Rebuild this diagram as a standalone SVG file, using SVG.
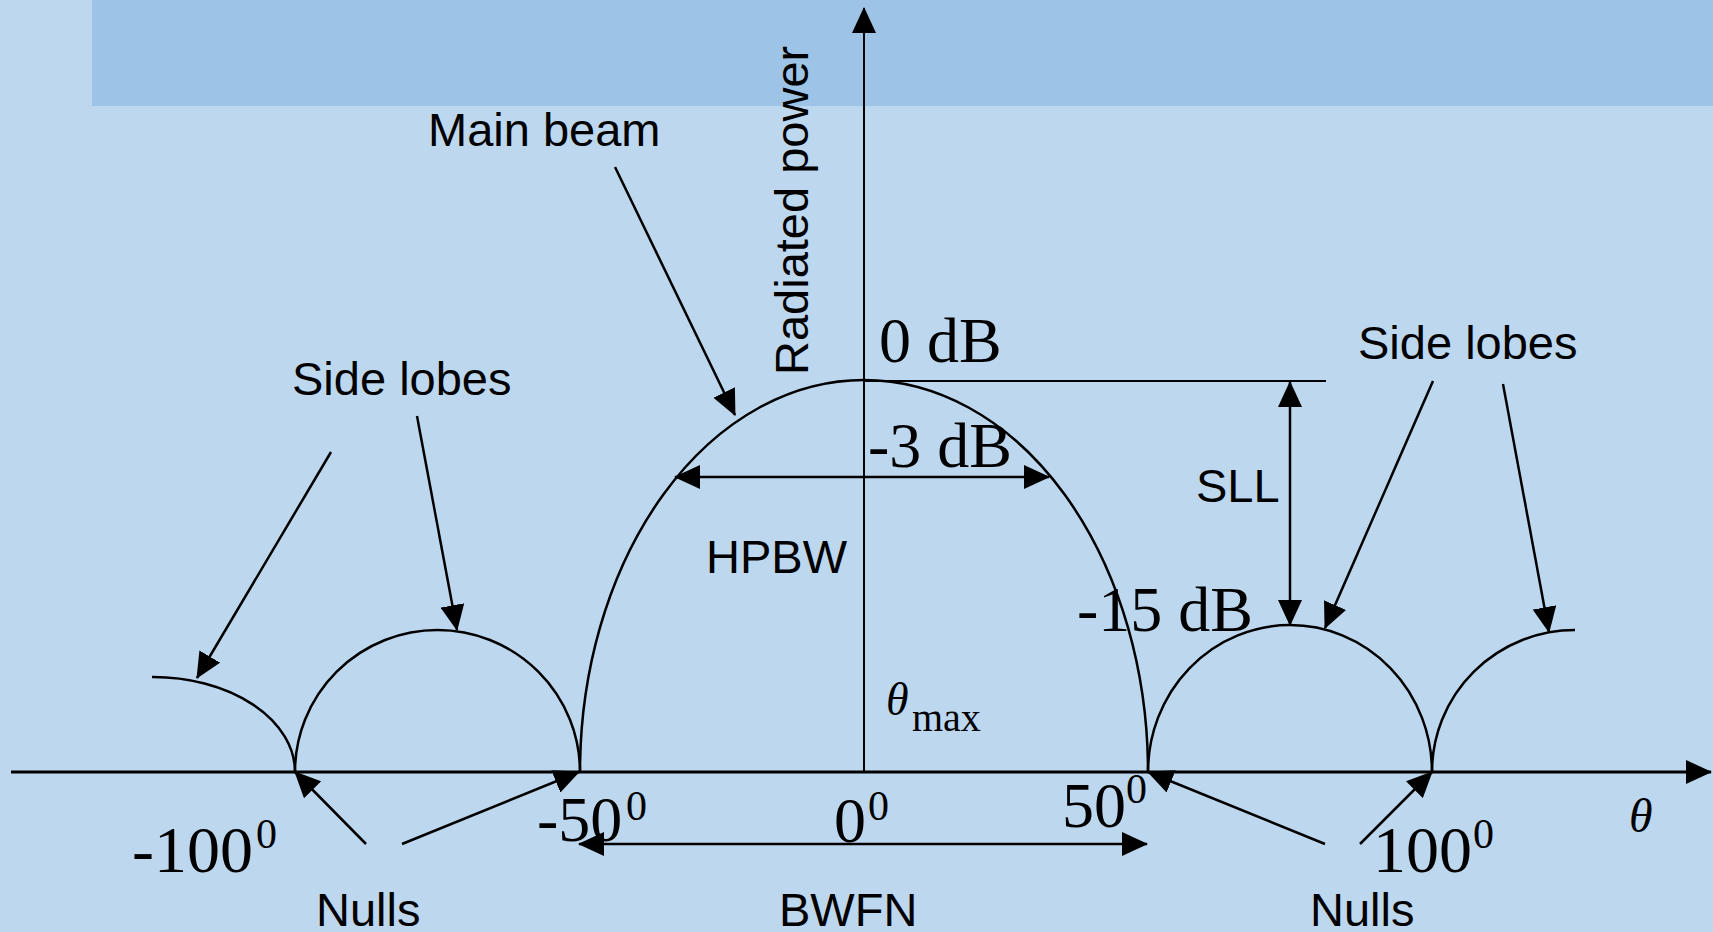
<svg xmlns="http://www.w3.org/2000/svg" width="1713" height="932" viewBox="0 0 1713 932">
<defs>
<marker id="ah" markerUnits="userSpaceOnUse" markerWidth="26" markerHeight="24" viewBox="0 0 26 24" refX="25" refY="12" orient="auto-start-reverse">
<path d="M0,0 L26,12 L0,24 z" fill="#000"/>
</marker>
<style>
.ln{stroke:#000;fill:none;stroke-width:2.5}
.cv{stroke:#000;fill:none;stroke-width:2.5}
.ar{stroke:#000;fill:none;stroke-width:2.5;marker-end:url(#ah)}
.da{stroke:#000;fill:none;stroke-width:2.5;marker-start:url(#ah);marker-end:url(#ah)}
.sans{font-family:"Liberation Sans",Arial,sans-serif;font-size:47px;fill:#000}
.serif{font-family:"Liberation Serif","Times New Roman",serif;font-size:64px;fill:#000}
.sup{font-family:"Liberation Serif","Times New Roman",serif;font-size:42px;fill:#000}
.sub{font-family:"Liberation Serif","Times New Roman",serif;font-size:40px;fill:#000}
.it{font-family:"Liberation Serif","Times New Roman",serif;font-style:italic;fill:#000}
</style>
</defs>
<rect x="0" y="0" width="1713" height="932" fill="#BDD7EE"/>
<rect x="92" y="0" width="1621" height="106" fill="#9DC3E6"/>

<g id="axes">
<path class="ln" d="M11,772 L1711,772" style="stroke-width:3" marker-end="url(#ah)"/>
<path class="ln" d="M864,772 L864,8" style="stroke-width:2" marker-end="url(#ah)"/>
</g>

<g id="lobes">
<path id="main-beam" class="cv" d="M580,772 A284,392 0 0 1 1148,772"/>
<path id="lobe-left" class="cv" d="M295,772 A142.5,142 0 0 1 580,772"/>
<path id="lobe-right" class="cv" d="M1148,772 A142,147 0 0 1 1432,772"/>
<path id="lobe-farleft" class="cv" d="M152,677 A142,95 0 0 1 295,772"/>
<path id="lobe-farright" class="cv" d="M1432,772 A143,142 0 0 1 1575,630"/>
</g>

<g id="connectors">
<path class="ln" d="M864,381 L1326,381" style="stroke-width:2"/>
<path class="da" d="M1290,382 L1290,625"/>
<path class="da" d="M675,477 L1049,477"/>
<path class="da" d="M579,844 L1147,844"/>
<path class="ar" d="M615,167 L735,415"/>
<path class="ar" d="M331,452 L197,678"/>
<path class="ar" d="M417,416 L457,630"/>
<path class="ar" d="M1433,381 L1325,628"/>
<path class="ar" d="M1503,384 L1549,632"/>
<path class="ar" d="M366,844 L295,772"/>
<path class="ar" d="M402,844 L579,772"/>
<path class="ar" d="M1325,844 L1148,772"/>
<path class="ar" d="M1360,844 L1432,772"/>
</g>

<g id="labels">
<text id="t-mainbeam" class="sans" x="428" y="146">Main beam</text>
<text id="t-radiated" class="sans" transform="translate(808,375) rotate(-90)">Radiated power</text>
<text id="t-sidelobes-l" class="sans" x="292" y="395">Side lobes</text>
<text id="t-sidelobes-r" class="sans" x="1358" y="359">Side lobes</text>
<text id="t-hpbw" class="sans" x="706" y="573">HPBW</text>
<text id="t-sll" class="sans" x="1196" y="502">SLL</text>
<text id="t-nulls-l" class="sans" x="316" y="926">Nulls</text>
<text id="t-bwfn" class="sans" x="779" y="926">BWFN</text>
<text id="t-nulls-r" class="sans" x="1310" y="926">Nulls</text>
<text id="t-0db" class="serif" x="879" y="362">0 dB</text>
<text id="t-3db" class="serif" x="868" y="467">-3 dB</text>
<text id="t-15db" class="serif" x="1077" y="631">-15 dB</text>
<g id="t-thetamax"><text class="it" x="886" y="715" style="font-size:46px">θ</text><text class="sub" x="912" y="731">max</text></g>
<text id="t-theta" class="it" x="1629" y="832" style="font-size:48px">θ</text>
<g id="t-m100"><text class="serif" x="132" y="872" style="font-size:66px">-100</text><text class="sup" x="256" y="848">0</text></g>
<g id="t-m50"><text class="serif" x="537" y="841">-50</text><text class="sup" x="626" y="820">0</text></g>
<g id="t-0"><text class="serif" x="834" y="842">0</text><text class="sup" x="868" y="820">0</text></g>
<g id="t-50"><text class="serif" x="1062" y="827">50</text><text class="sup" x="1126" y="803">0</text></g>
<g id="t-100"><text class="serif" x="1373" y="872" style="font-size:66px">100</text><text class="sup" x="1473" y="848">0</text></g>
</g>
</svg>
